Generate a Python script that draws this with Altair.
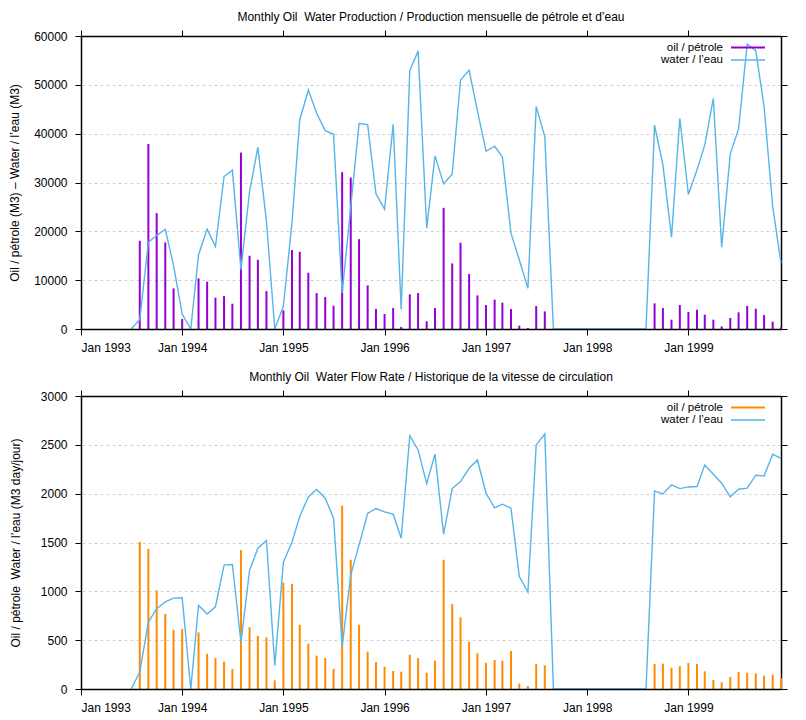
import altair as alt
import pandas as pd

# ---------------- data ----------------
months = pd.date_range("1993-01-01", periods=84, freq="MS").strftime("%Y-%m-%d").tolist()
years = list(range(1993, 2000))

oil_volume = [
    0, 0, 0, 0, 0, 0, 0, 18060, 37900, 23720, 17720, 8320,                 # 1993
    2050, 0, 10360, 9680, 6410, 6750, 5180, 36130, 15000, 14180, 7770, 0,   # 1994
    3820, 16160, 15820, 11520, 7360, 6540, 4770, 32110, 31020, 18400, 8930, 4090,  # 1995
    3070, 4290, 410, 7090, 7360, 1570, 4290, 24810, 13430, 17660, 11250, 6890,      # 1996
    4910, 6000, 5390, 4090, 680, 200, 4700, 3610, 0, 0, 0, 0,               # 1997
    0, 0, 0, 0, 0, 0, 0, 0, 5250, 4290, 1910, 4910,                         # 1998
    3480, 3950, 2930, 1910, 545, 2250, 3410, 4700, 4160, 2860, 1500, 340,   # 1999
]
water_volume = [
    None, None, None, None, None, None, 0, 1910, 17790, 19160, 20450, 13000,
    3070, 0, 15200, 20450, 16900, 31220, 32520, 12130, 28150, 37220, 22000, 0,
    4640, 21700, 42810, 48950, 44170, 40630, 39880, 7360, 25000, 42060, 41860, 27680,
    24540, 41920, 4000, 52900, 56920, 20660, 35450, 29720, 31770, 50990, 52970, 44650,
    36400, 37430, 35240, 19630, 14180, 8320, 45540, 39400, 0, 0, 0, 0,
    0, 0, 0, 0, 0, 0, 0, 0, 41720, 33610, 18810, 43150,
    27540, 32590, 37700, 47240, 16770, 35860, 40970, 58350, 56990, 45540, 25090, 13500,
]
oil_rate = [
    0, 0, 0, 0, 0, 0, 0, 1507, 1435, 1009, 770, 607,
    614, 0, 580, 361, 317, 280, 205, 1422, 634, 545, 528, 89,
    1087, 1077, 658, 464, 341, 317, 205, 1878, 1323, 658, 382, 276,
    228, 184, 177, 351, 317, 167, 290, 1323, 869, 733, 481, 365,
    269, 297, 290, 389, 55, 31, 256, 242, 0, 0, 0, 0,
    0, 0, 0, 0, 0, 0, 0, 0, 256, 259, 218, 235,
    266, 256, 181, 92, 68, 123, 174, 167, 160, 136, 147, 112,
]
water_rate = [
    None, None, None, None, None, None, 0, 174, 685, 822, 893, 931,
    934, 0, 856, 767, 842, 1268, 1275, 477, 1214, 1442, 1520, 239,
    1299, 1503, 1766, 1967, 2042, 1953, 1749, 436, 1169, 1476, 1797, 1848,
    1814, 1790, 1544, 2594, 2448, 2103, 2403, 1585, 2052, 2124, 2260, 2345,
    2004, 1855, 1892, 1851, 1152, 992, 2499, 2611, 0, 0, 0, 0,
    0, 0, 0, 0, 0, 0, 0, 0, 2028, 1998, 2090, 2052,
    2069, 2073, 2294, 2199, 2107, 1967, 2045, 2056, 2189, 2182, 2403, 2362,
]

legend_labels = ["oil / pétrole", "water / l’eau"]
titles = [
    "Monthly Oil\u00a0 Water Production / Production mensuelle de pétrole et d’eau",
    "Monthly Oil\u00a0 Water Flow Rate / Historique de la vitesse de circulation",
]
y_titles = [
    "Oil / pétrole (M3) – Water / l’eau (M3)",
    "Oil / pétrole\u00a0 Water / l’eau (M3 day/jour)",
]

FONT = "Liberation Sans"
FS = 12
WATER_COLOR = "#56b4e9"
W, H = 700, 293


def panel(oil, water, oil_color, title, ytitle, ymax, ystep, title_pad):
    df = pd.DataFrame({"date": months, "oil": oil, "water": water})
    xdom = [alt.DateTime(year=1993, month=1, date=1, utc=True),
            alt.DateTime(year=1999, month=12, date=1, utc=True)]
    xvals = [alt.DateTime(year=y, month=1, date=1, utc=True) for y in years]
    xscale = alt.Scale(type="utc", domain=xdom)
    yscale = alt.Scale(domain=[0, ymax], nice=False)
    yvals = list(range(0, ymax + 1, ystep))
    base = alt.Chart(df)

    bars = base.mark_rule(color=oil_color, strokeWidth=2).encode(
        x=alt.X("date:T", scale=xscale,
                axis=alt.Axis(orient="bottom", values=xvals, format="%b %Y", title=None,
                              grid=False, zindex=1, labelPadding=7)),
        y=alt.Y("oil:Q", scale=yscale,
                axis=alt.Axis(orient="left", values=yvals, format="d", title=ytitle,
                              grid=False, zindex=1, titlePadding=title_pad, labelPadding=8)),
        y2=alt.datum(0),
    )
    line = base.mark_line(color=WATER_COLOR, strokeWidth=1.4).encode(
        x=alt.X("date:T", scale=xscale,
                axis=alt.Axis(orient="top", values=xvals, labels=False, title=None,
                              grid=False, zindex=1)),
        y=alt.Y("water:Q", scale=yscale,
                axis=alt.Axis(orient="right", values=yvals, labels=False, title=None,
                              grid=True, gridDash=[3, 3], gridColor="#c8c8c8",
                              gridWidth=0.8, zindex=0)),
    )

    layers = [bars, line]
    colors = [oil_color, WATER_COLOR]
    widths = [2, 1.4]
    for i, lab in enumerate(legend_labels):
        ldf = pd.DataFrame({"label": [lab]})
        yy = 11.5 + 12.5 * i
        layers.append(
            alt.Chart(ldf).mark_text(align="right", baseline="middle", fontSize=11.5,
                                     font=FONT, color="black")
            .encode(x=alt.value(642), y=alt.value(yy), text="label:N")
        )
        layers.append(
            alt.Chart(ldf).mark_rule(color=colors[i], strokeWidth=widths[i])
            .encode(x=alt.value(650), x2=alt.value(684), y=alt.value(yy))
        )

    return (
        alt.layer(*layers)
        .resolve_axis(x="independent", y="independent")
        .properties(width=W, height=H,
                    title=alt.TitleParams(title, fontSize=FS, fontWeight="normal",
                                          font=FONT, color="black", offset=6))
    )


top = panel(oil_volume, water_volume, "#9400d3", titles[0], y_titles[0], 60000, 10000, 12)
bottom = panel(oil_rate, water_rate, "#ff8c00", titles[1], y_titles[1], 3000, 500, 18)

chart = (
    alt.vconcat(top, bottom, spacing=17)
    .configure(font=FONT, padding={"left": 0, "top": 2, "right": 5, "bottom": 5})
    .configure_view(stroke=None)
    .configure_axis(
        labelFont=FONT, labelFontSize=FS, labelColor="black",
        titleFont=FONT, titleFontSize=FS, titleFontWeight="normal", titleColor="black",
        domainColor="black", domainWidth=1.5, tickColor="black", tickWidth=1, tickSize=6,
    )
)

chart.save("out.html", embed_options={"renderer": "svg", "actions": False})
